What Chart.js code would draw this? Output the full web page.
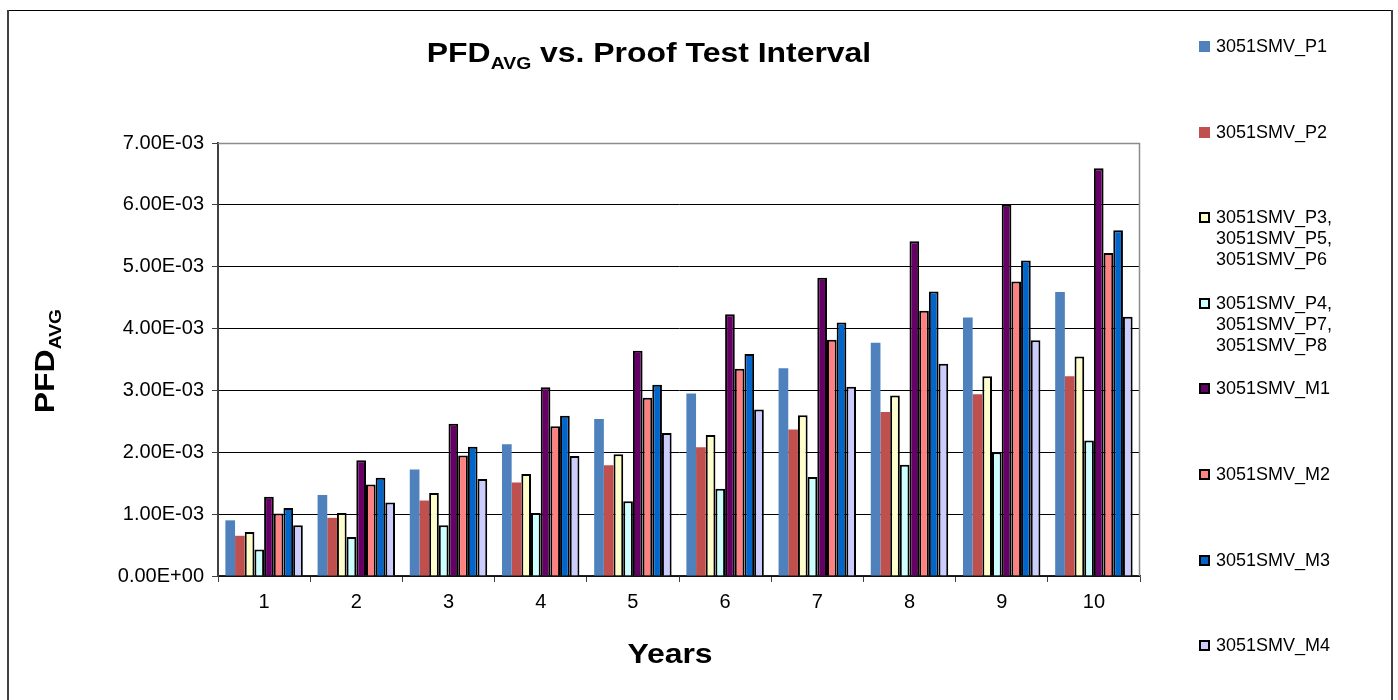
<!DOCTYPE html>
<html>
<head>
<meta charset="utf-8">
<script src="https://cdn.jsdelivr.net/npm/chart.js@4"></script>
<style>
  html, body { margin: 0; padding: 0; background: #fff; }
  #wrap { position: relative; width: 1398px; height: 700px; overflow: hidden; }
  #legend { position: absolute; left: 1199px; top: 0; font-family: "Liberation Sans", Arial, sans-serif; font-size: 18px; color: #000; }
  .item { position: absolute; left: 0; white-space: nowrap; }
  .box { position: absolute; left: 0; top: 5px; width: 11px; height: 11px; box-sizing: border-box; }
  .txt { position: absolute; left: 17px; top: 0; line-height: 21px; }
</style>
</head>
<body>
<div id="wrap">
  <canvas id="chart" width="1398" height="700"></canvas>
  <div id="legend"></div>
</div>
<script>
// ==========================
// Data
// ==========================
const years = ["1", "2", "3", "4", "5", "6", "7", "8", "9", "10"];

const p1 = [0.90e-3, 1.31e-3, 1.72e-3, 2.13e-3, 2.54e-3, 2.95e-3, 3.36e-3, 3.77e-3, 4.18e-3, 4.59e-3];
const p2 = [0.65e-3, 0.94e-3, 1.22e-3, 1.51e-3, 1.79e-3, 2.08e-3, 2.37e-3, 2.65e-3, 2.94e-3, 3.23e-3];
const p3 = [0.71e-3, 1.02e-3, 1.34e-3, 1.65e-3, 1.97e-3, 2.28e-3, 2.60e-3, 2.92e-3, 3.23e-3, 3.55e-3];
const p4 = [0.43e-3, 0.63e-3, 0.82e-3, 1.02e-3, 1.21e-3, 1.41e-3, 1.60e-3, 1.80e-3, 2.00e-3, 2.19e-3];
const m1 = [1.28e-3, 1.87e-3, 2.46e-3, 3.05e-3, 3.64e-3, 4.23e-3, 4.82e-3, 5.41e-3, 6.00e-3, 6.59e-3];
const m2 = [1.01e-3, 1.48e-3, 1.95e-3, 2.42e-3, 2.88e-3, 3.35e-3, 3.82e-3, 4.29e-3, 4.76e-3, 5.22e-3];
const m3 = [1.10e-3, 1.59e-3, 2.09e-3, 2.59e-3, 3.09e-3, 3.59e-3, 4.10e-3, 4.60e-3, 5.10e-3, 5.59e-3];
const m4 = [0.82e-3, 1.19e-3, 1.57e-3, 1.94e-3, 2.31e-3, 2.69e-3, 3.06e-3, 3.43e-3, 3.81e-3, 4.19e-3];

const seriesLabels = [
  ["3051SMV_P1"],
  ["3051SMV_P2"],
  ["3051SMV_P3,", "3051SMV_P5,", "3051SMV_P6"],
  ["3051SMV_P4,", "3051SMV_P7,", "3051SMV_P8"],
  ["3051SMV_M1"],
  ["3051SMV_M2"],
  ["3051SMV_M3"],
  ["3051SMV_M4"]
];
const seriesValues = [p1, p2, p3, p4, m1, m2, m3, m4];
const seriesColors = ["#4F81BD", "#C0504D", "#FFFFCC", "#CCFFFF", "#660066", "#FF8080", "#0066CC", "#CCCCFF"];
const seriesOutlined = [false, false, true, true, true, true, true, true];

const yTicks = [0, 0.001, 0.002, 0.003, 0.004, 0.005, 0.006, 0.007];

const FONT = '"Liberation Sans", Arial, Helvetica, sans-serif';
Chart.defaults.font.family = FONT;
Chart.defaults.color = "#000";

// "7.00E-03" style, like the spreadsheet
function sci(v) {
  if (Math.abs(v) < 1e-12) return "0.00E+00";
  const parts = v.toExponential(2).split("e");
  const exp = parseInt(parts[1], 10);
  const sign = exp < 0 ? "-" : "+";
  const e = String(Math.abs(exp)).padStart(2, "0");
  return parts[0] + "E" + sign + e;
}

// text with a subscript part, centred on (0,0) after transform, a bit wide like the original
const STRETCH = 1.14;
function drawSubText(ctx, main, sub, rest) {
  const big = "bold 28px " + FONT, small = "bold 17px " + FONT;
  ctx.font = big;
  const w1 = ctx.measureText(main).width;
  const w3 = rest ? ctx.measureText(rest).width : 0;
  ctx.font = small;
  const w2 = sub ? ctx.measureText(sub).width : 0;
  ctx.scale(STRETCH, 1);
  const x = -(w1 + w2 + w3) / 2;
  ctx.textAlign = "left";
  ctx.font = big;
  ctx.fillText(main, x, 0);
  if (sub) {
    ctx.font = small;
    ctx.fillText(sub, x + w1, 7);
  }
  if (rest) {
    ctx.font = big;
    ctx.fillText(rest, x + w1 + w2, 0);
  }
}

// ==========================
// Extra drawing: borders and titles
// ==========================
const decorPlugin = {
  id: "decor",
  afterDraw(chart) {
    const ctx = chart.ctx;
    const a = chart.chartArea;
    ctx.save();

    // plot-area frame (top & right)
    ctx.strokeStyle = "#8C8C8C";
    ctx.lineWidth = 1.5;
    ctx.beginPath();
    ctx.moveTo(a.left, a.top + 0.5);
    ctx.lineTo(a.right - 0.5, a.top + 0.5);
    ctx.lineTo(a.right - 0.5, a.bottom);
    ctx.stroke();

    // outer frame
    ctx.strokeStyle = "#000";
    ctx.lineWidth = 1;
    ctx.beginPath();
    ctx.moveTo(8, 10.5);
    ctx.lineTo(1392, 10.5);
    ctx.stroke();
    ctx.strokeStyle = "#404040";
    ctx.lineWidth = 2;
    ctx.beginPath();
    ctx.moveTo(8, 10);
    ctx.lineTo(8, 700);
    ctx.moveTo(1392, 10);
    ctx.lineTo(1392, 700);
    ctx.stroke();

    ctx.fillStyle = "#000";
    ctx.textBaseline = "alphabetic";

    // chart title
    ctx.save();
    ctx.translate(649, 62);
    drawSubText(ctx, "PFD", "AVG", " vs. Proof Test Interval");
    ctx.restore();

    // y-axis title (rotated)
    ctx.save();
    ctx.translate(54, 361);
    ctx.rotate(-Math.PI / 2);
    drawSubText(ctx, "PFD", "AVG", "");
    ctx.restore();

    // x-axis title
    ctx.save();
    ctx.translate(670, 663);
    drawSubText(ctx, "Years", "", "");
    ctx.restore();

    ctx.restore();
  }
};

// ==========================
// Chart
// ==========================
const datasets = seriesValues.map((vals, i) => ({
  label: seriesLabels[i].join(" "),
  data: vals,
  backgroundColor: seriesColors[i],
  borderColor: "#000",
  borderWidth: seriesOutlined[i] ? 2 : 0,
  borderSkipped: "start",
  barPercentage: 1.0,
  categoryPercentage: 0.84
}));

new Chart(document.getElementById("chart").getContext("2d"), {
  type: "bar",
  data: { labels: years, datasets: datasets },
  options: {
    responsive: false,
    animation: false,
    layout: { padding: { left: 0, top: 143, right: 258, bottom: 0 } },
    plugins: {
      legend: { display: false },
      title: { display: false },
      tooltip: { enabled: false }
    },
    scales: {
      x: {
        grid: {
          display: true,
          offset: true,
          drawOnChartArea: false,
          drawTicks: true,
          tickLength: 6,
          tickColor: "#404040",
          tickWidth: 1
        },
        border: { display: true, color: "#202020", width: 1.5 },
        ticks: { font: { size: 20 }, padding: 8, color: "#000", maxRotation: 0 },
        afterFit(scale) { scale.height = 124; }
      },
      y: {
        min: 0,
        max: 0.007,
        afterBuildTicks(scale) { scale.ticks = yTicks.map(v => ({ value: v })); },
        grid: {
          color: "#000",
          lineWidth: 1,
          drawTicks: true,
          tickLength: 6,
          tickColor: "#404040"
        },
        border: { display: true, color: "#404040", width: 2 },
        ticks: {
          font: { size: 20 },
          padding: 8,
          color: "#000",
          callback: v => sci(v)
        },
        afterFit(scale) { scale.width = 218; }
      }
    }
  },
  plugins: [decorPlugin]
});

// ==========================
// Legend (HTML, multi-line labels)
// ==========================
const legendElem = document.getElementById("legend");
seriesLabels.forEach((lines, i) => {
  const item = document.createElement("div");
  item.className = "item";
  item.style.top = (36 + i * 85.6) + "px";
  const box = document.createElement("div");
  box.className = "box";
  box.style.background = seriesColors[i];
  if (seriesOutlined[i]) box.style.border = "2px solid #000";
  const txt = document.createElement("div");
  txt.className = "txt";
  txt.innerHTML = lines.join("<br>");
  item.appendChild(box);
  item.appendChild(txt);
  legendElem.appendChild(item);
});
</script>
</body>
</html>
